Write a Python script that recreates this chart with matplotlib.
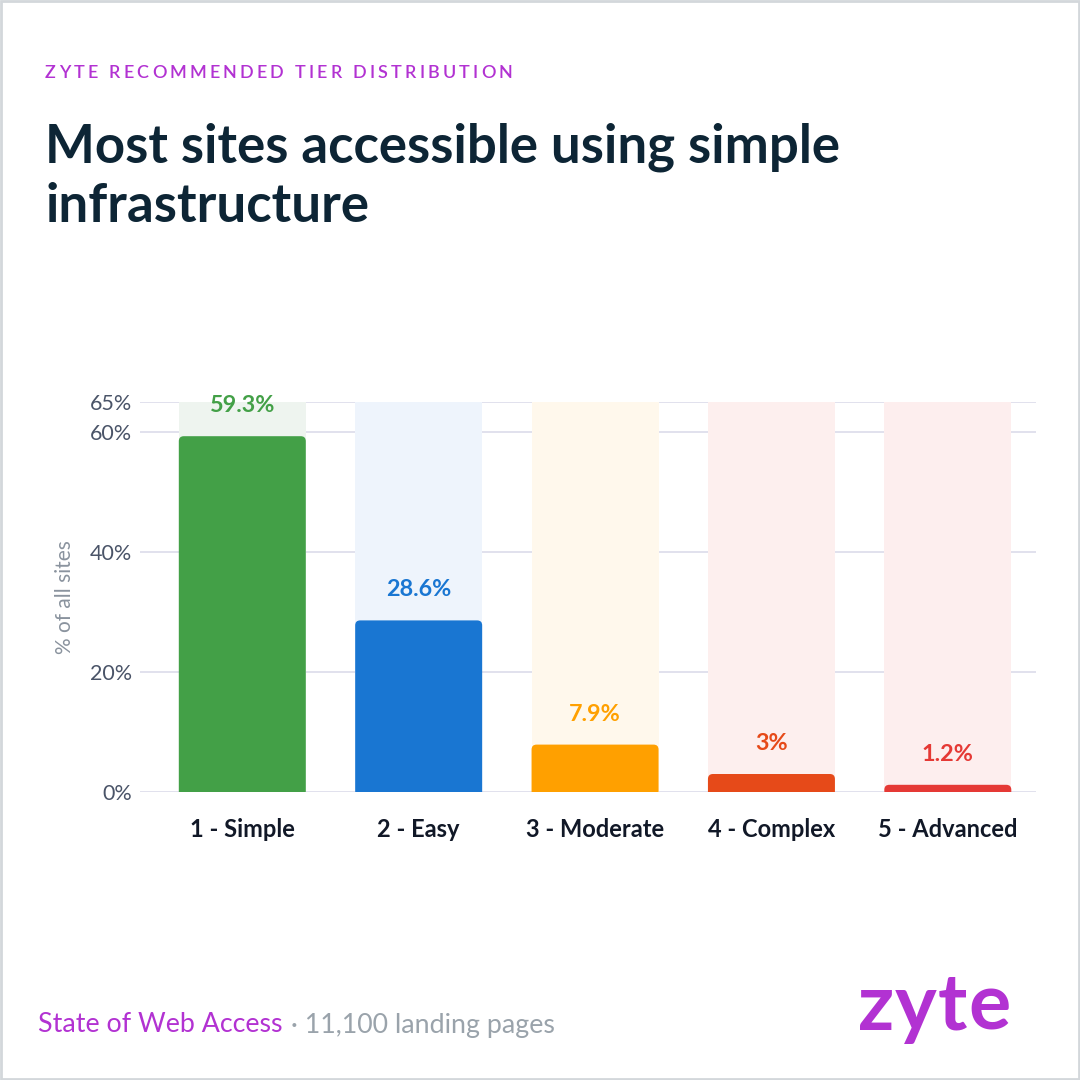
import matplotlib
matplotlib.use("Agg")
import matplotlib.pyplot as plt
from matplotlib.patches import FancyBboxPatch, Rectangle

categories = ["1 - Simple", "2 - Easy", "3 - Moderate", "4 - Complex", "5 - Advanced"]
values = [59.3, 28.6, 7.9, 3, 1.2]
value_labels = ["59.3%", "28.6%", "7.9%", "3%", "1.2%"]
ytick_vals = [0, 20, 40, 60, 65]
ytick_labels = ["0%", "20%", "40%", "60%", "65%"]
y_max = 65

bar_colors = ["#43A047", "#1976D2", "#FFA000", "#E64A19", "#E53935"]
bg_colors = ["#EEF4EF", "#EEF4FC", "#FFF8EC", "#FDEFEE", "#FDEEEE"]

NAVY = "#0D2535"
PURPLE = "#B232D2"
FONT = "Lato"

fig = plt.figure(figsize=(10.8, 10.8), dpi=100)
fig.patch.set_facecolor("white")

# frame
fig.add_artist(Rectangle((0.001, 0.001), 0.998, 0.998, transform=fig.transFigure,
                         fill=False, edgecolor="#D3D7DB", linewidth=2))

ax = fig.add_axes([140/1080, 1-792/1080, (1036-140)/1080, (792-402)/1080])
x = list(range(len(categories)))
width = 0.72

ax.set_xlim(-0.58, 4.5)
ax.set_ylim(0, y_max)

for s in ax.spines.values():
    s.set_visible(False)
ax.set_yticks(ytick_vals)
ax.set_yticklabels(ytick_labels, fontsize=15.5, color="#4A5468", family=FONT)
ax.set_xticks(x)
ax.set_xticklabels(categories, fontsize=17, fontweight="bold", color="#111827", family=FONT)
ax.tick_params(axis="both", length=0)
ax.tick_params(axis="y", pad=6)
ax.tick_params(axis="x", pad=19)
ax.grid(axis="y", color="#DCDCEA", linewidth=1.2, zorder=0)
ax.set_axisbelow(True)
ax.set_ylabel("% of all sites", fontsize=15, color="#8A939E", family=FONT)
ax.yaxis.set_label_coords(-0.073, 0.5)

# background tint bars
bgs = ax.bar(x, [y_max]*len(x), width=width, color=bg_colors, zorder=1)
bars = ax.bar(x, values, width=width, color=bar_colors, zorder=2)

# round top corners
fig.canvas.draw()
px_per_x = ax.transData.transform((1, 0))[0] - ax.transData.transform((0, 0))[0]
px_per_y = ax.transData.transform((0, 1))[1] - ax.transData.transform((0, 0))[1]
r_px = 5
rx = r_px / px_per_x
ry = r_px / px_per_y
for rect in list(bars):
    bx, by = rect.get_x(), rect.get_y()
    w, h = rect.get_width(), rect.get_height()
    rect.set_visible(False)
    hh = h + ry
    rr = min(rx, (hh / 2) * (rx / ry))
    p = FancyBboxPatch((bx, by - ry), w, hh,
                       boxstyle=f"round,pad=0,rounding_size={rr}",
                       mutation_aspect=ry/rx, facecolor=rect.get_facecolor(),
                       edgecolor="none", zorder=2, clip_on=True)
    ax.add_patch(p)

for xi, v, lab, c in zip(x, values, value_labels, bar_colors):
    ax.annotate(lab, (xi, v), xytext=(0, 22), textcoords="offset points",
                ha="center", va="center", fontsize=16.8, fontweight="bold",
                color=c, family=FONT, zorder=3)

# letter-spaced text helper
renderer = fig.canvas.get_renderer()
def spaced_text(xpx, ypx, s, spacing_px, va="center", **kw):
    cur = xpx
    for ch in s:
        t = fig.text(cur/1080, 1-ypx/1080, ch, va=va, ha="left", **kw)
        bb = t.get_window_extent(renderer=renderer)
        if ch == " ":
            w = kw.get("fontsize", 12) * 100/72 * 0.28
        else:
            w = bb.width
        cur += w + spacing_px

spaced_text(45, 73, "ZYTE RECOMMENDED TIER DISTRIBUTION", 3.15,
            fontsize=13, color=PURPLE, family=FONT, fontweight="semibold")

fig.text(45/1080, 1-162/1080, "Most sites accessible using simple", fontsize=38,
         fontweight="bold", color=NAVY, family=FONT, va="baseline", ha="left")
fig.text(45/1080, 1-222/1080, "infrastructure", fontsize=38,
         fontweight="bold", color=NAVY, family=FONT, va="baseline", ha="left")

# footer
t1 = fig.text(38/1080, 1-1025/1080, "State of Web Access", fontsize=19.3, color=PURPLE,
              family=FONT, va="center", ha="left")
bb = t1.get_window_extent(renderer=renderer)
fig.text((bb.x1 + 2)/1080, 1-1025/1080, " · 11,100 landing pages", fontsize=19.3,
         color="#9AA3AB", family=FONT, va="center", ha="left")

spaced_text(858, 1030, "zyte", 1, va="baseline", fontsize=57, fontweight="bold",
            color=PURPLE, family=FONT)

fig.savefig("out.png", dpi=100)
